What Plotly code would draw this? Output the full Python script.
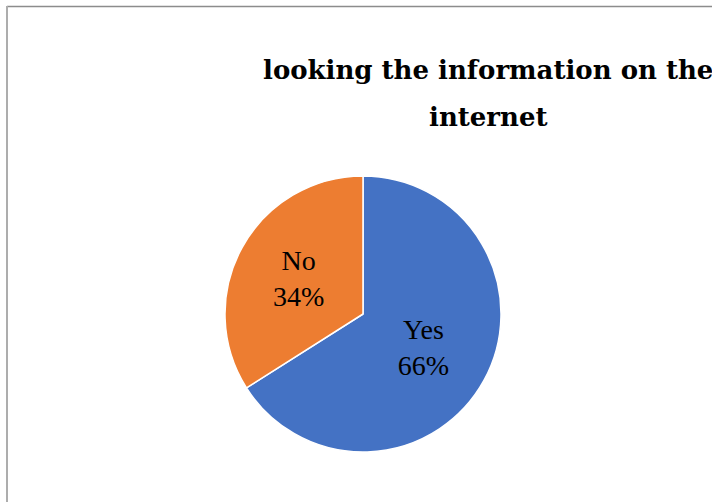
import plotly.graph_objects as go

# Survey answers and their share of respondents
answers = ["Yes", "No"]
shares = [66, 34]
colors = ["#4472C4", "#ED7D31"]
title_lines = ["looking the information on the", "internet"]

W, H = 712, 502
cx, cy, r = 363, 314, 138

fig = go.Figure(
    go.Pie(
        labels=answers,
        values=shares,
        sort=False,
        direction="clockwise",
        rotation=0,
        marker=dict(colors=colors, line=dict(color="white", width=1.5)),
        texttemplate="%{label}<br>%{percent:.0%}",
        textposition="inside",
        insidetextorientation="horizontal",
        insidetextfont=dict(family="Liberation Serif", size=28, color="black"),
        hoverinfo="label+percent",
        showlegend=False,
        domain=dict(x=[(cx - r) / W, (cx + r) / W], y=[(H - cy - r) / H, (H - cy + r) / H]),
    )
)

# Title drawn line by line so the wide line spacing can be kept
title_annotations = [
    dict(
        text=f"<b>{line}</b>",
        x=488 / W, y=1 - yb / H, xref="paper", yref="paper",
        xanchor="center", yanchor="bottom", showarrow=False,
        font=dict(family="DejaVu Serif", size=26, color="black"),
    )
    for line, yb in zip(title_lines, [87, 134])
]

fig.update_layout(
    width=W,
    height=H,
    margin=dict(l=0, r=0, t=0, b=0),
    paper_bgcolor="white",
    plot_bgcolor="white",
    annotations=title_annotations,
    shapes=[
        dict(type="line", xref="paper", yref="paper", x0=7 / W, x1=1, y0=1 - 6.5 / H, y1=1 - 6.5 / H,
             line=dict(color="#8c8c8c", width=1.5)),
        dict(type="line", xref="paper", yref="paper", x0=7 / W, x1=7 / W, y0=0, y1=1 - 6 / H,
             line=dict(color="#adadad", width=2)),
    ],
)

fig.write_html("out.html")
